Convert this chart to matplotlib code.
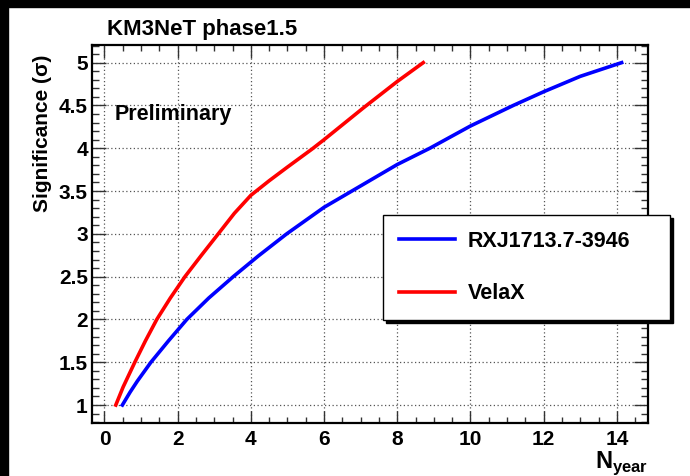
import matplotlib
matplotlib.use("Agg")
import matplotlib.pyplot as plt
from matplotlib.patches import Rectangle
from matplotlib.ticker import MultipleLocator

plt.rcParams['font.family'] = ['Liberation Sans', 'DejaVu Sans']
plt.rcParams['font.weight'] = 'bold'
plt.rcParams['mathtext.fontset'] = 'custom'
plt.rcParams['mathtext.rm'] = 'Liberation Sans:bold'
plt.rcParams['mathtext.bf'] = 'Liberation Sans:bold'

# significance vs. years of data taking
rxj_years = [0.49, 0.70, 0.90, 1.27, 1.75, 2.25, 2.85, 3.52, 4.20, 4.98, 6.00,
             7.00, 8.00, 8.89, 10.00, 11.17, 12.00, 13.00, 14.13]
rxj_sigma = [1.00, 1.15, 1.28, 1.50, 1.75, 2.00, 2.25, 2.50, 2.74, 3.00, 3.31,
             3.56, 3.81, 4.00, 4.26, 4.50, 4.66, 4.84, 5.00]

vela_years = [0.31, 0.51, 0.83, 1.12, 1.43, 1.80, 2.20, 2.65, 3.11, 3.55, 4.00,
              4.50, 5.00, 5.67, 6.00, 7.07, 8.00, 8.71]
vela_sigma = [1.00, 1.21, 1.50, 1.75, 2.00, 2.25, 2.50, 2.75, 3.00, 3.24, 3.45,
              3.62, 3.78, 3.99, 4.10, 4.47, 4.78, 5.00]

fig = plt.figure(figsize=(6.9, 4.76), dpi=100)
ax = fig.add_axes([92 / 690, 1 - 423 / 476, 556 / 690, 378 / 476])

ax.plot(rxj_years, rxj_sigma, color='#0000ff', lw=2.6, label='RXJ1713.7-3946')
ax.plot(vela_years, vela_sigma, color='#ff0000', lw=2.6, label='VelaX')

ax.set_xlim(-0.34, 14.85)
ax.set_ylim(0.79, 5.206)

ax.xaxis.set_major_locator(MultipleLocator(2))
ax.xaxis.set_minor_locator(MultipleLocator(0.5))
ax.yaxis.set_major_locator(MultipleLocator(0.5))
ax.yaxis.set_minor_locator(MultipleLocator(0.1))
ax.yaxis.set_major_formatter(plt.FuncFormatter(lambda v, p: f'{v:g}'))

ax.tick_params(which='both', direction='in', top=True, right=True,
               labelsize=15, width=1.0, color='#333333')
ax.tick_params(axis='x', which='major', length=9, pad=5)
ax.tick_params(axis='x', which='minor', length=4.5)
ax.tick_params(axis='y', which='major', length=10, pad=3)
ax.tick_params(axis='y', which='minor', length=5)
for s in ax.spines.values():
    s.set_linewidth(1.6)
    s.set_color('black')

ax.grid(True, which='major', color='#555555', lw=0.9, ls=(0, (1, 2)))

ax.set_title('KM3NeT phase1.5', loc='left', x=0.027, pad=7,
             fontsize=16, fontweight='bold')
ax.text(0.041, 0.802, 'Preliminary', transform=ax.transAxes,
        fontsize=15.5, fontweight='bold', va='baseline', ha='left')

ax.set_ylabel('Significance (σ)', fontsize=15, fontweight='bold')
ax.yaxis.set_label_coords(-0.072, 0.767)
ax.set_xlabel(r'$\mathrm{N}_{\mathrm{year}}$', fontsize=17, loc='right',
              labelpad=0)

leg = ax.legend(loc='center', mode='expand', frameon=True, fancybox=False,
                bbox_to_anchor=(383 / 690, 1 - 317 / 476, 287 / 690, 99 / 476),
                bbox_transform=fig.transFigure, fontsize=15.5,
                handlelength=2.6, handletextpad=0.6, labelspacing=1.45,
                borderpad=0.75, borderaxespad=0,
                shadow={'color': 'black', 'alpha': 1})
leg.get_frame().set_edgecolor('black')
leg.get_frame().set_linewidth(1.0)

# dark margin on the top and left edges
fig.patches.append(Rectangle((0, 1 - 7 / 476), 1, 7 / 476, color='black',
                             transform=fig.transFigure, zorder=-1))
fig.patches.append(Rectangle((0, 0), 8 / 690, 1, color='black',
                             transform=fig.transFigure, zorder=-1))

fig.savefig('out.png', dpi=100)
